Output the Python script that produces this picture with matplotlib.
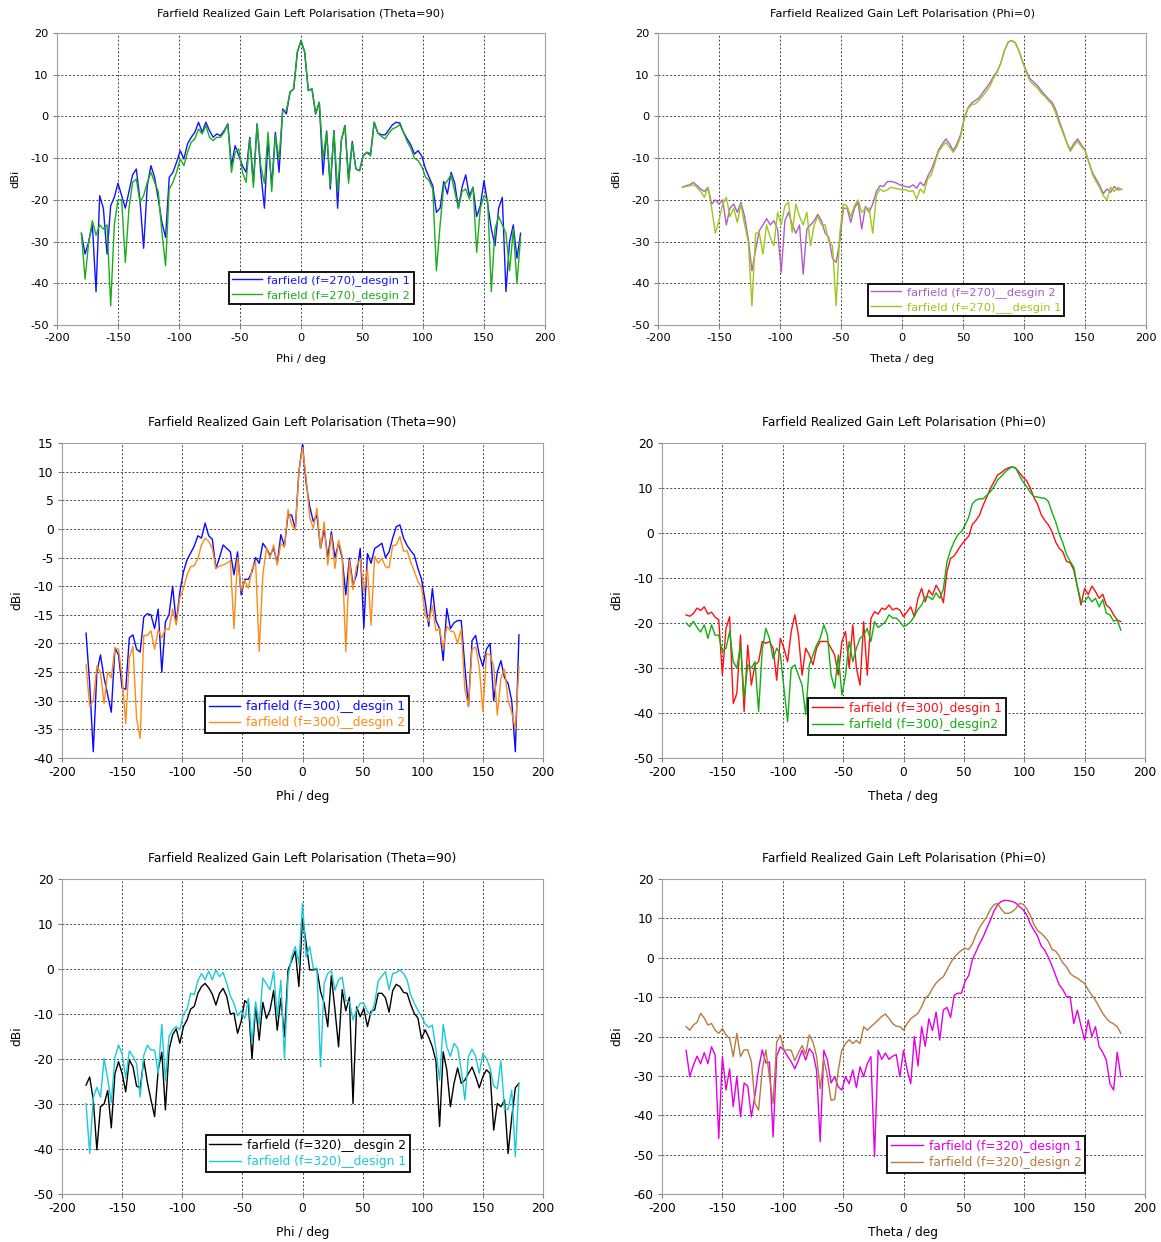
import numpy as np
import matplotlib
matplotlib.use("Agg")
import matplotlib.pyplot as plt

plt.rcParams["axes.unicode_minus"] = False

# sampling angle of every farfield cut (deg)
angle = np.arange(-180, 181, 3)

# f=270, Theta=90 cut (x = Phi)
g270_phi_d1 = [
    -28, -33, -30, -26, -42, -19, -22, -33, -21.4, -19.4,
    -16, -19, -22, -18, -14, -12.6, -20, -31.6, -16.6, -11.8,
    -14.6, -19.8, -25.4, -29, -14.6, -13.4, -11, -8.2, -10.2, -6.6,
    -5, -3.8, -1.4, -3.8, -1.4, -3.4, -5, -4.2, -4.6, -3.4,
    -1.8, -11.8, -7, -9.4, -11.8, -13.4, -5, -15.8, -1.8, -13.4,
    -22, -5.4, -16.6, -3.8, -13.4, 1.8, 0.6, 5.8, 6.6, 15.4,
    18.2,
    15.4, 6.2, 6.6, 0.6, 3.4, -14, -3.5, -17.4, -3.4, -22,
    -5.8, -2.2, -15, -6, -12.6, -13, -9.4, -8.6, -9, -1.4,
    -4, -4.4, -4.4, -3.2, -2, -1.4, -1.6, -3.8, -5.4, -6.8,
    -9, -8.2, -9.5, -12.5, -14.6, -16.6, -23, -22, -15.6, -18.6,
    -13.4, -16, -22, -17, -14, -19, -17, -24, -21.4, -15.4,
    -21, -27, -31, -22, -19.4, -42, -30, -26, -34, -28]
g270_phi_d2 = [
    -28, -39, -30, -25, -28.5, -26, -27, -26, -45.4, -26,
    -20, -20, -35, -22, -15.8, -15, -20.6, -19, -15.8, -13.4,
    -15.8, -18, -27.8, -35.8, -17.4, -15.8, -13.4, -10.2, -11.8, -8.6,
    -6.2, -5.4, -3, -4.2, -2.2, -5, -5.8, -5, -5, -3.8,
    -1.8, -13.4, -8.6, -7.8, -13.4, -15.8, -5.4, -17, -1.8, -11.8,
    -16, -3.8, -18, -4.6, -10.2, 1.4, 1.4, 5.8, 6.6, 15.4,
    18.2,
    15.4, 6.2, 6.6, 0.6, 3.4, -10, -3.8, -16.6, -3.4, -18,
    -5.8, -2.2, -16, -6.5, -12.6, -13, -9.4, -8.6, -9.5, -1.4,
    -4, -4.8, -5.4, -4, -3, -2.6, -2, -3.8, -6, -7.6,
    -10, -10.6, -12, -14.5, -15.4, -17.4, -37, -26, -16.6, -15.4,
    -14, -18, -22, -18, -17.4, -19.8, -17, -32.6, -22, -19,
    -20, -42, -27, -24, -26, -28, -37, -27, -40, -29]

# f=270, Phi=0 cut (x = Theta)
g270_theta_d2 = [
    -17, -16.6, -16.4, -15.8, -16.6, -17.4, -18, -17, -21, -20,
    -21, -20, -26, -22, -21, -23, -20.6, -24, -29.4, -37,
    -32, -27.4, -26, -24.5, -26, -25, -27, -37.4, -25, -23,
    -26, -28, -26, -37.8, -27, -26, -25, -23.5, -25, -28,
    -29, -34, -35, -30, -22, -22, -25.4, -22, -20.5, -27,
    -21.6, -23, -21, -18, -16.6, -16.8, -15.6, -15.6, -15.8, -16.2,
    -16.6,
    -16.8, -17, -16.4, -17.2, -15.8, -16.6, -14.4, -12.8, -10.5, -8,
    -6.6, -5.4, -6.6, -8.2, -6.6, -4.4, -0.4, 2, 3.2, 3.8,
    4.4, 5.6, 6.8, 8, 9.6, 10.8, 12.8, 15.8, 17.8, 18.2,
    17.6, 15.6, 13, 10.8, 9, 8.2, 7.4, 6.2, 5.2, 4.2,
    3.4, 1.6, -1.2, -3.6, -6.2, -8, -6.4, -5.4, -6.8, -8,
    -10.8, -13.4, -15, -16.5, -18.5, -17.4, -18.2, -16.8, -17.6, -17.4]
g270_theta_d1 = [
    -17, -16.8, -16.6, -16.4, -17, -18, -19.4, -17, -22, -28,
    -25, -21, -19.4, -24, -22, -25.4, -21, -26, -30, -45.4,
    -28, -27.8, -33, -26, -29, -31, -23, -26, -21.4, -20.6,
    -27.8, -21, -24, -26, -23, -31, -26, -24, -26, -26,
    -30, -31, -45.4, -28, -21, -21.5, -24, -21.4, -20, -23,
    -22, -22, -28, -19, -17.4, -18, -17.6, -17, -17.2, -17.4,
    -17.6,
    -17.6, -18, -17.8, -19.8, -17.4, -18.4, -15, -14, -11.2, -8.4,
    -7.2, -6.2, -7.4, -8.6, -7.2, -5, -0.6, 1.8, 2.8, 3,
    3.8, 4.8, 6, 7.2, 9.2, 10.6, 12.8, 15.8, 17.8, 18.2,
    17.6, 15.6, 13, 10.4, 8.4, 7.6, 6.8, 5.6, 4.8, 3.8,
    2.8, 0.8, -1.8, -4, -6.4, -8.4, -7, -6, -7.2, -8.2,
    -11, -13.8, -15.6, -17, -19, -20, -17, -18, -17, -17.6]

# f=300, Theta=90 cut
g300_phi_d1 = [
    -18.2, -27, -38.9, -25, -22, -26, -29, -32, -20.8, -22,
    -27.8, -28, -19, -18.5, -21, -21.5, -15.4, -14.8, -15, -17.4,
    -14, -25, -16.2, -15, -10, -16.4, -11, -7.5, -5.4, -4.2,
    -3, -1.2, -1.6, 1, -1.2, -1.8, -6.9, -5, -2.8, -3.4,
    -4, -8, -4, -11.5, -8.8, -8.8, -7.5, -5, -6, -2.5,
    -3.4, -4.6, -3.4, -6, -1, -3, 2.5, 2.4, 0, 10,
    14.8,
    8, 3.9, 1.3, 2.4, -3.4, 0, -5, -0.5, -5, -2.5,
    -5.1, -11.5, -5.1, -9.8, -8, -3.4, -17.3, -4.3, -6, -3.4,
    -3, -2.5, -5, -4, -1.6, 0.4, 0.7, -1.6, -2.9, -3.8,
    -4.6, -6.9, -8.8, -12.6, -17, -10.4, -16, -17.4, -23, -13.9,
    -17.4, -16.4, -16, -16, -24, -31, -19.5, -18.6, -22, -24,
    -21, -20, -30, -25, -23, -26, -27, -30, -38.9, -18.5]
g300_phi_d2 = [
    -23.7, -31, -30, -24, -25, -30.5, -25, -26, -20.8, -21,
    -26, -34, -22.5, -20.5, -33, -36.6, -18.6, -18.6, -17.8, -21,
    -17.6, -19, -17.4, -17.6, -14, -16.8, -12, -10.4, -8, -6.6,
    -6.4, -5.2, -2.8, -1.6, -2.2, -3.4, -6.9, -6.5, -6.3, -6,
    -5.5, -17.4, -5, -10.8, -9, -10.4, -7, -5.8, -21.4, -8,
    -3.4, -5, -2.8, -6.3, -2.5, -3.2, 3.4, 0.7, -0.2, 10,
    14.2,
    9, 2, 0.1, 3.6, -3.4, 1.2, -6.3, -1.1, -6.9, -2,
    -4.6, -21.4, -5.5, -10.6, -6.5, -5.2, -11, -6.9, -16.8, -4.8,
    -6, -5.1, -6.6, -6.8, -2.9, -2.8, -1.3, -3.9, -3.8, -5.8,
    -7.4, -9.2, -10.2, -15, -16.2, -13.4, -17.8, -17.4, -21, -17,
    -17.8, -18, -20, -17.5, -28, -31, -21, -20.6, -24, -31.9,
    -21.8, -22, -24, -32.5, -26, -24.5, -30, -32, -35, -24]

# f=300, Phi=0 cut
g300_theta_d1 = [
    -18.2, -18.5, -17.9, -16.7, -17.2, -16.4, -18, -17.6, -18.7, -19.3,
    -31.6, -21.2, -18.6, -37.9, -35.6, -22.7, -39.7, -24.9, -33.8, -29.3,
    -28.6, -24.1, -24.5, -24.1, -25.6, -32.7, -23.4, -25.6, -28.6, -21.9,
    -18.2, -22.7, -31.6, -25.6, -27.1, -29.3, -25.6, -24.1, -24.1, -24.1,
    -25.6, -27.1, -31.6, -24.1, -21.9, -30, -20.4, -30, -33.8, -19.7,
    -31.6, -19, -17.5, -18, -16.7, -17, -16, -17.1, -16.7, -17.1,
    -18.6,
    -17.5, -16.4, -18.6, -14.5, -12.3, -15.3, -12.7, -13.8, -11.6, -13,
    -15.5, -8.6, -5.6, -5.1, -3.8, -2.6, -1.6, -0.7, 1.9, 2.8,
    4, 6.2, 8, 9.9, 11.4, 12.9, 13.4, 14.1, 14.5, 14.7,
    14.4, 13.4, 12.4, 11.6, 10, 7.9, 6.4, 4.1, 2.8, 1.8,
    0.3, -2, -3.4, -4.2, -6.3, -6.6, -8.2, -12, -16, -12.3,
    -13.7, -11.8, -13, -14.5, -13.6, -16, -16.7, -18.2, -19.3, -19.7]
g300_theta_d2 = [
    -20, -20.8, -19.6, -21, -22, -20.4, -23.4, -20.4, -22.7, -22.7,
    -26.4, -25.6, -21.9, -28.6, -30, -25, -36.7, -29.3, -30, -28.6,
    -39.7, -26, -21.2, -23.4, -27.9, -25.6, -27, -34.5, -41.9, -30,
    -29.3, -31.6, -33.8, -40.4, -29.3, -27.1, -24.9, -23.4, -20.4, -22.7,
    -31.6, -34.5, -27.1, -36, -31.6, -24.1, -28.6, -25.6, -23.4, -22.7,
    -21.2, -24.1, -19.7, -21, -20.4, -19.7, -18.2, -18.9, -18.9, -19.7,
    -20.8,
    -20.4, -19.7, -18.5, -17, -16, -14.2, -14.2, -14.8, -13.3, -14.5,
    -12.5, -6.4, -3.8, -1.9, -0.4, 0.3, 1.8, 3.5, 6.5, 7.3,
    7.6, 7.6, 8.4, 9.2, 10.3, 11.8, 12.6, 13.5, 14.2, 14.7,
    14.4, 12.8, 11.4, 10.3, 9, 8.1, 8, 7.8, 7.7, 7,
    4.6, 2.5, -0.2, -2.2, -4.8, -6.3, -7.6, -11.9, -15.2, -15.2,
    -14.1, -15.3, -14.5, -16.4, -14.8, -17.8, -18.2, -19.6, -19.3, -21.6]

# f=320, Theta=90 cut
g320_phi_d2 = [
    -25.8, -24, -29, -40.2, -30.6, -30, -27, -35.3, -23.3, -20.6,
    -23.2, -27.3, -20.2, -21.7, -26, -26.5, -20.2, -25.2, -29.1, -32.8,
    -22.4, -18.5, -31.3, -18, -14.6, -13.3, -16.5, -12.8, -11.3, -8.9,
    -8.3, -5.4, -3.9, -3.2, -4.2, -5.6, -8, -5.4, -4.3, -6.1,
    -10, -9.8, -14.3, -11.6, -7, -7.8, -20, -8.3, -15.8, -7.4,
    -11, -9.1, -4.8, -13.6, -6.5, -15, -0.2, 1.9, 4, -3.9,
    11.3,
    5.7, -0.2, -0.2, 0, -5, -7.6, -12.8, -1.5, -9.1, -17.3,
    -4.6, -9.3, -6.3, -29.9, -8.4, -10.6, -8.8, -12.8, -9.4, -9.1,
    -5.4, -5.4, -6.4, -9.6, -4.8, -3.4, -3.9, -5.2, -5.4, -7.9,
    -9.9, -10.9, -15.5, -13.5, -15.2, -17.3, -20.5, -35, -18.4, -22.4,
    -30.6, -25.4, -22, -25.4, -24.7, -23.2, -21.8, -23.9, -26.4, -23.9,
    -22.4, -23.2, -35.8, -29.9, -30.6, -29.1, -41, -33, -26.4, -25.4]
g320_phi_d1 = [
    -29.9, -41, -28.6, -26.3, -28.5, -19.9, -24.4, -29.7, -19.6, -16.9,
    -18.9, -24.2, -18.2, -19.4, -21, -28.4, -19.2, -17, -18, -18,
    -23.2, -12.3, -24.8, -15, -13.5, -12.8, -13.5, -10, -9, -5.4,
    -5.7, -2.6, -1, -2.4, -0.5, -2.4, -0.2, -1.7, -0.8, -3.2,
    -6, -7.6, -10.4, -9.3, -11, -6.5, -16.5, -7.3, -12.4, -2,
    -3.3, -4.6, -0.5, -10.6, -2.5, -20, -1.7, 2.7, 5, 1.2,
    14.6,
    2.7, 5, 0, 0.2, -21.7, -3.2, -1, -0.4, -4.7, -2.4,
    -1.8, -7.1, -7.3, -11.3, -9.1, -7.6, -7.6, -9.5, -10.2, -7.6,
    -2.6, -1.6, -0.6, -4.6, -1, -0.8, -0.2, -1, -2.4, -5.8,
    -7.6, -9.2, -10.5, -12.2, -13, -12.5, -18, -24.7, -12.3, -17.3,
    -19.4, -16.5, -17.6, -22.4, -29.1, -19.5, -17.8, -19.4, -23.2, -18.8,
    -19.9, -22, -26, -26.6, -20.4, -31.2, -31.2, -26.9, -41.7, -25.4]

# f=320, Phi=0 cut
g320_theta_d1 = [
    -23.5, -30.2, -27.3, -25, -26.9, -24.1, -26.9, -22.6, -24.7, -45.9,
    -25, -33.6, -28.2, -37.8, -30.2, -40.4, -31.8, -32.6, -40.4, -35,
    -28.2, -23.4, -26.7, -26.5, -45.5, -25, -22.6, -23.5, -25, -26.4,
    -28.2, -26, -23.5, -26, -23.1, -24.2, -28.6, -46.7, -23.5, -26,
    -31.8, -30.2, -32.8, -33.6, -30.2, -32, -28.5, -33, -27.7, -30.2,
    -26.9, -25.1, -50.5, -23.5, -25.8, -24.2, -25.8, -25, -24.6, -30.2,
    -23.5,
    -28.5, -32, -20, -27.5, -17.5, -22.5, -15.5, -18.5, -13.8, -20.9,
    -13.3, -12.6, -15.2, -9.5, -9, -9, -6, -4.5, -0.5, 1.5,
    3.6, 5.3, 7.5, 9.6, 11.9, 13.5, 14.3, 14.6, 14.5, 14.3,
    13.9, 13, 12.2, 10.9, 8.6, 7, 5.5, 3, 1.9, 0.1,
    -2.1, -4.5, -6.9, -8.1, -9.9, -9.9, -16.7, -13.3, -17.3, -20.9,
    -15.8, -20, -17.5, -22.6, -24, -26, -32, -33.6, -24, -30.2]
g320_theta_d2 = [
    -17.5, -18.4, -17.1, -16.4, -14.1, -15.3, -17.1, -16.7, -18.4, -19.2,
    -18, -19.6, -20.5, -25.1, -19.2, -25.1, -23.4, -23.4, -26.4, -37,
    -38.7, -28.6, -23.4, -30.2, -37, -21.4, -19.6, -23.5, -23.4, -23.5,
    -26.1, -24.1, -22.3, -24.5, -19.6, -21.4, -25, -33.3, -25.8, -30,
    -36.2, -36, -28.5, -23.4, -21.8, -20.8, -21.8, -21, -21.8, -17.5,
    -18.4, -17.5, -16.7, -15.8, -14.9, -14.3, -15.4, -16.7, -17.4, -17.5,
    -18.4,
    -16.7, -15.5, -14.8, -14.1, -12.4, -10.3, -9.5, -7.8, -6.4, -5.5,
    -4.8, -3.1, -1.3, 0.1, 1.1, 1.9, 2.4, 2.1, 3.5, 5.8,
    7.7, 9.1, 10.4, 12.3, 13.5, 13.8, 12.3, 11.3, 11.3, 11.7,
    12.5, 13.8, 13.6, 12.5, 10.8, 8.5, 6.9, 6.2, 5.3, 4.1,
    2.1, 1.7, 0.4, -1.3, -2.3, -4, -4.7, -5.2, -5.9, -6.5,
    -8.2, -9.5, -10.8, -12.5, -14.1, -15.4, -16.3, -16.8, -17.5, -19.2]

W, H = 1161, 1242
fig = plt.figure(figsize=(W / 100, H / 100), dpi=100)

title_phi = "Farfield Realized Gain Left Polarisation (Theta=90)"
title_theta = "Farfield Realized Gain Left Polarisation (Phi=0)"

panels = [
    # box (left, top, right, bottom) px, title, xlabel, ylim, ystep, fontsize, legend anchor, curves
    ((57, 33, 545, 325), title_phi, "Phi / deg", (-50, 20), 10, 8.2, (0.352, 0.072),
     [(g270_phi_d1, "#1414ff", "farfield (f=270)_desgin 1"),
      (g270_phi_d2, "#1aae1a", "farfield (f=270)_desgin 2")]),
    ((658, 33, 1146, 325), title_theta, "Theta / deg", (-50, 20), 10, 8.2, (0.430, 0.031),
     [(g270_theta_d2, "#b05ec4", "farfield (f=270)__desgin 2"),
      (g270_theta_d1, "#9cc81c", "farfield (f=270)___desgin 1")]),
    ((62, 443, 543, 758), title_phi, "Phi / deg", (-40, 15), 5, 8.8, (0.297, 0.079),
     [(g300_phi_d1, "#0a0aff", "farfield (f=300)__desgin 1"),
      (g300_phi_d2, "#ff8a14", "farfield (f=300)__desgin 2")]),
    ((662, 443, 1145, 758), title_theta, "Theta / deg", (-50, 20), 10, 8.8, (0.302, 0.073),
     [(g300_theta_d1, "#ff1010", "farfield (f=300)_desgin 1"),
      (g300_theta_d2, "#10b010", "farfield (f=300)_desgin2")]),
    ((62, 879, 543, 1194), title_phi, "Phi / deg", (-50, 20), 10, 8.8, (0.299, 0.070),
     [(g320_phi_d2, "#000000", "farfield (f=320)__desgin 2"),
      (g320_phi_d1, "#18cbd8", "farfield (f=320)__design 1")]),
    ((662, 879, 1145, 1194), title_theta, "Theta / deg", (-60, 20), 10, 8.8, (0.466, 0.067),
     [(g320_theta_d1, "#e400e4", "farfield (f=320)_design 1"),
      (g320_theta_d2, "#b77a40", "farfield (f=320)_design 2")]),
]

for box, title, xlabel, ylim, ystep, fs, anchor, curves in panels:
    l, t, r, b = box
    ax = fig.add_axes([l / W, 1 - b / H, (r - l) / W, (b - t) / H])
    for vals, col, lab in curves:
        ax.plot(angle, vals, color=col, lw=1.0, label=lab)
    ax.set_xlim(-200, 200)
    ax.set_ylim(*ylim)
    ax.set_xticks(np.arange(-200, 201, 50))
    ax.set_yticks(np.arange(ylim[0], ylim[1] + 1, ystep))
    ax.grid(True, color="#444444", linestyle=(0, (2, 2)), linewidth=0.7)
    for sp in ax.spines.values():
        sp.set_color("#a0a0a0")
    ax.tick_params(direction="out", length=3, color="#808080", labelsize=fs, pad=3)
    ax.set_title(title, fontsize=fs, pad=12)
    ax.set_xlabel(xlabel, fontsize=fs, labelpad=8)
    ax.set_ylabel("dBi", fontsize=fs, labelpad=7)
    leg = ax.legend(loc="lower left", bbox_to_anchor=anchor, borderaxespad=0,
                    fontsize=fs, fancybox=False, framealpha=1, edgecolor="black",
                    labelcolor="linecolor", handlelength=2.6, borderpad=0.3,
                    labelspacing=0.3, handletextpad=0.5)
    leg.get_frame().set_linewidth(1.3)

fig.savefig("out.png", dpi=100, facecolor="white")
